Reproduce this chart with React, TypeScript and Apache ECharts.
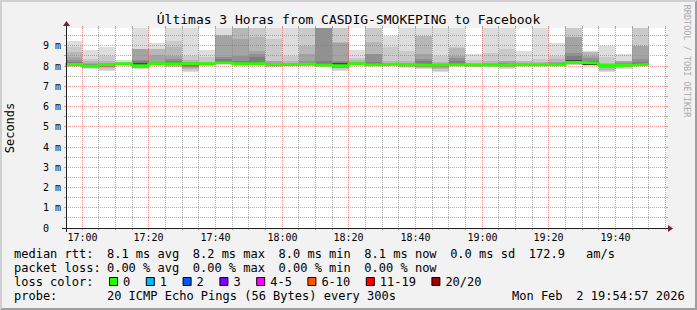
import React, { useEffect, useRef } from "react";
import * as echarts from "echarts";

// ---- data ----
const binTimes = [
  "16:55", "17:00", "17:05", "17:10", "17:15", "17:20", "17:25", "17:30", "17:35", "17:40",
  "17:45", "17:50", "17:55", "18:00", "18:05", "18:10", "18:15", "18:20", "18:25", "18:30",
  "18:35", "18:40", "18:45", "18:50", "18:55", "19:00", "19:05", "19:10", "19:15", "19:20",
  "19:25", "19:30", "19:35", "19:40", "19:45",
];
const binMinutes = 5; // every 300s

const medians = [
  8.08, 7.99, 8.08, 8.12, 8.02, 8.12, 8.12, 8.11, 8.12, 8.16,
  8.11, 8.13, 8.08, 8.08, 8.1, 8.05, 8.01, 8.12, 8.07, 8.1,
  8.06, 8.05, 8.06, 8.07, 8.05, 8.05, 8.08, 8.07, 8.07, 8.07,
  8.17, 8.15, 8.03, 8.05, 8.08,
];

// sorted pings, highest first: ping20 .. ping11 (ms)
const pingsHigh = [
  [9.25, 8.92, 8.67, 8.43, 8.3, 8.18, 8.15, 8.13, 8.12, 8.1],
  [8.79, 8.35, 8.25, 8.15, 8.1, 8.07, 8.05, 8.03, 8.02, 8.01],
  [8.95, 8.5, 8.26, 8.15, 8.13, 8.12, 8.11, 8.1, 8.09, 8.09],
  [8.3, 8.2, 8.16, 8.15, 8.14, 8.14, 8.13, 8.13, 8.13, 8.12],
  [10.5, 8.84, 8.83, 8.82, 8.31, 8.25, 8.15, 8.14, 8.13, 8.1],
  [9.14, 8.84, 8.82, 8.54, 8.18, 8.16, 8.15, 8.14, 8.13, 8.13],
  [10.5, 9.25, 8.92, 8.48, 8.35, 8.25, 8.18, 8.16, 8.15, 8.14],
  [10.5, 8.51, 8.3, 8.2, 8.16, 8.14, 8.13, 8.12, 8.12, 8.11],
  [8.79, 8.43, 8.21, 8.17, 8.15, 8.14, 8.14, 8.13, 8.13, 8.12],
  [10.5, 9.53, 9.52, 9.5, 8.43, 8.35, 8.26, 8.24, 8.22, 8.21],
  [10.5, 10.3, 10.1, 9.33, 8.48, 8.26, 8.2, 8.17, 8.15, 8.13],
  [10.5, 10.2, 9.42, 8.76, 8.6, 8.43, 8.21, 8.18, 8.16, 8.15],
  [10.5, 9.33, 8.26, 8.25, 8.13, 8.12, 8.11, 8.1, 8.1, 8.09],
  [10.5, 8.51, 8.26, 8.13, 8.12, 8.11, 8.1, 8.1, 8.09, 8.09],
  [10.5, 10.5, 9.0, 8.6, 8.25, 8.16, 8.14, 8.12, 8.11, 8.11],
  [10.5, 10.5, 10.5, 10.5, 10.5, 8.26, 8.13, 8.11, 8.09, 8.07],
  [10.5, 10.5, 9.17, 9.15, 8.26, 8.2, 8.15, 8.14, 8.13, 8.12],
  [8.79, 8.4, 8.3, 8.18, 8.16, 8.15, 8.14, 8.13, 8.13, 8.13],
  [10.5, 10.5, 9.17, 8.59, 8.58, 8.18, 8.16, 8.14, 8.12, 8.1],
  [9.5, 8.92, 8.26, 8.17, 8.14, 8.13, 8.12, 8.12, 8.11, 8.11],
  [10.5, 8.76, 8.26, 8.15, 8.12, 8.1, 8.09, 8.08, 8.08, 8.07],
  [10.5, 9.5, 9.49, 8.59, 8.35, 8.25, 8.15, 8.12, 8.1, 8.08],
  [10.5, 8.51, 8.18, 8.12, 8.1, 8.09, 8.08, 8.08, 8.07, 8.07],
  [10.5, 8.92, 8.91, 8.48, 8.4, 8.26, 8.15, 8.12, 8.1, 8.09],
  [8.6, 8.3, 8.15, 8.1, 8.08, 8.07, 8.07, 8.06, 8.06, 8.06],
  [10.5, 8.63, 8.26, 8.15, 8.1, 8.08, 8.07, 8.07, 8.06, 8.06],
  [10.5, 8.84, 8.26, 8.25, 8.15, 8.13, 8.11, 8.1, 8.1, 8.09],
  [8.72, 8.26, 8.25, 8.13, 8.11, 8.1, 8.09, 8.09, 8.08, 8.08],
  [10.5, 8.35, 8.18, 8.12, 8.1, 8.09, 8.09, 8.08, 8.08, 8.08],
  [9.14, 8.51, 8.35, 8.18, 8.16, 8.14, 8.12, 8.11, 8.1, 8.09],
  [10.5, 10.5, 9.45, 9.44, 8.65, 8.5, 8.3, 8.29, 8.28, 8.27],
  [8.72, 8.71, 8.7, 8.5, 8.4, 8.26, 8.24, 8.23, 8.22, 8.21],
  [9.0, 8.43, 8.13, 8.1, 8.08, 8.07, 8.06, 8.06, 8.05, 8.05],
  [8.59, 8.26, 8.25, 8.24, 8.13, 8.11, 8.1, 8.09, 8.08, 8.07],
  [10.5, 10.5, 9.0, 8.99, 8.35, 8.18, 8.15, 8.13, 8.11, 8.1],
];

// sorted pings, lowest first: ping1 .. ping10 (ms)
const pingsLow = [
  [7.97, 8.0, 8.02, 8.03, 8.04, 8.05, 8.05, 8.06, 8.06, 8.07],
  [7.85, 7.88, 7.92, 7.94, 7.95, 7.96, 7.97, 7.97, 7.98, 7.98],
  [7.77, 7.82, 7.88, 7.93, 7.97, 8.0, 8.02, 8.04, 8.05, 8.07],
  [8.05, 8.07, 8.08, 8.09, 8.1, 8.1, 8.11, 8.11, 8.11, 8.12],
  [7.86, 7.88, 7.9, 7.92, 7.93, 7.94, 7.94, 7.95, 7.95, 7.95],
  [8.05, 8.07, 8.08, 8.09, 8.1, 8.1, 8.11, 8.11, 8.11, 8.11],
  [7.93, 7.97, 8.0, 8.03, 8.05, 8.07, 8.08, 8.09, 8.1, 8.1],
  [7.72, 7.78, 7.85, 7.9, 7.95, 7.99, 8.02, 8.05, 8.08, 8.1],
  [8.02, 8.05, 8.07, 8.08, 8.09, 8.1, 8.1, 8.11, 8.11, 8.11],
  [8.08, 8.1, 8.11, 8.12, 8.12, 8.13, 8.13, 8.14, 8.14, 8.14],
  [8.0, 8.03, 8.05, 8.06, 8.07, 8.08, 8.08, 8.09, 8.09, 8.09],
  [8.05, 8.07, 8.08, 8.09, 8.1, 8.1, 8.11, 8.11, 8.11, 8.11],
  [7.93, 7.97, 8.0, 8.02, 8.04, 8.05, 8.06, 8.06, 8.07, 8.07],
  [8.0, 8.03, 8.04, 8.05, 8.06, 8.06, 8.07, 8.07, 8.07, 8.07],
  [8.02, 8.04, 8.05, 8.06, 8.07, 8.08, 8.08, 8.09, 8.09, 8.09],
  [7.95, 7.98, 8.0, 8.01, 8.02, 8.02, 8.03, 8.03, 8.03, 8.03],
  [7.77, 7.82, 7.88, 7.91, 7.92, 7.93, 7.93, 7.94, 7.94, 7.95],
  [8.05, 8.07, 8.08, 8.09, 8.1, 8.1, 8.11, 8.11, 8.11, 8.11],
  [7.98, 8.0, 8.01, 8.02, 8.03, 8.03, 8.04, 8.04, 8.04, 8.04],
  [8.02, 8.04, 8.05, 8.06, 8.07, 8.08, 8.08, 8.09, 8.09, 8.09],
  [7.91, 7.95, 7.98, 8.0, 8.02, 8.03, 8.04, 8.04, 8.05, 8.05],
  [7.85, 7.88, 7.92, 7.95, 7.98, 8.0, 8.01, 8.01, 8.02, 8.02],
  [7.72, 7.78, 7.85, 7.92, 7.97, 8.0, 8.02, 8.03, 8.04, 8.05],
  [7.98, 8.0, 8.02, 8.03, 8.04, 8.04, 8.05, 8.05, 8.05, 8.05],
  [7.93, 7.96, 7.98, 8.0, 8.01, 8.02, 8.03, 8.03, 8.04, 8.04],
  [7.95, 7.98, 8.0, 8.01, 8.02, 8.03, 8.03, 8.04, 8.04, 8.04],
  [7.85, 7.9, 7.95, 7.98, 8.01, 8.03, 8.05, 8.06, 8.06, 8.07],
  [7.98, 8.01, 8.03, 8.04, 8.05, 8.05, 8.06, 8.06, 8.06, 8.06],
  [8.0, 8.02, 8.03, 8.04, 8.05, 8.05, 8.06, 8.06, 8.06, 8.06],
  [7.98, 8.0, 8.02, 8.03, 8.04, 8.04, 8.05, 8.05, 8.05, 8.05],
  [8.05, 8.07, 8.08, 8.09, 8.1, 8.1, 8.11, 8.11, 8.12, 8.12],
  [8.02, 8.03, 8.04, 8.05, 8.05, 8.06, 8.06, 8.06, 8.07, 8.07],
  [7.69, 7.75, 7.82, 7.88, 7.93, 7.96, 7.98, 7.99, 8.0, 8.01],
  [7.85, 7.9, 7.95, 7.98, 8.0, 8.01, 8.02, 8.02, 8.03, 8.03],
  [7.98, 8.01, 8.03, 8.04, 8.05, 8.05, 8.06, 8.06, 8.06, 8.06],
];

const xTickLabels = ["17:00", "17:20", "17:40", "18:00", "18:20", "18:40", "19:00", "19:20", "19:40"];
const yTickLabels = ["0", "1 m", "2 m", "3 m", "4 m", "5 m", "6 m", "7 m", "8 m", "9 m"];

const titleText = "Últimas 3 Horas from CASDIG-SMOKEPING to Facebook";
const rttStats = ["8.1 ms avg", "8.2 ms max", "8.0 ms min", "8.1 ms now", "0.0 ms sd", "172.9", "am/s"];
const rttCols = [13, 25, 37, 49, 61, 72, 80];
const lossStats = ["0.00 % avg", "0.00 % max", "0.00 % min", "0.00 % now"];
const lossCols = [13, 25, 37, 49];
const lossLabels = ["0", "1", "2", "3", "4-5", "6-10", "11-19", "20/20"];
const lossColors = ["#26ff00", "#00b8ff", "#0059ff", "#7e00ff", "#ff00fe", "#ff5500", "#ff0000", "#a10000"];
const probeText = "20 ICMP Echo Pings (56 Bytes) every 300s";
const dateParts = ["Mon Feb", "2 19:54:57 2026"];

// ---- layout / style ----
const W = 697;
const H = 310;
const GL = 66;
const GT = 28;
const GW = 600;
const GH = 200;
const X_MIN = -4.8;
const X_MAX = 175.2;
const Y_MAX = 9.88;
const MONO = '"DejaVu Sans Mono", monospace';
const GRID_C = "rgba(143,143,143,0.75)";
const MGRID_C = "rgba(222,79,79,0.6)";
const AXIS_C = "#1f1f1f";
const ARROW_C = "#801f1f";

const toMin = (s: string) => {
  const [h, m] = s.split(":").map(Number);
  return (h - 17) * 60 + m;
};

function buildOption() {
  const smokeData = binTimes.map((t, i) => [
    toMin(t),
    toMin(t) + binMinutes,
    ...pingsLow[i],
    ...pingsHigh[i].slice().reverse(),
  ]);

  const medianData: number[][] = [[toMin(binTimes[0]), medians[0]]];
  binTimes.forEach((t, i) => medianData.push([toMin(t) + binMinutes, medians[i]]));

  const gridData: number[][] = [];
  const majors = xTickLabels.map(toMin);
  for (let t = 0; t <= X_MAX; t += 5) {
    const li = majors.indexOf(t);
    gridData.push([0, t, li >= 0 ? 1 : 0, li]);
  }
  for (let v = 0.5; v < Y_MAX; v += 0.5) {
    gridData.push([1, v, Number.isInteger(v) ? 1 : 0, -1]);
  }

  const smokeSeries = {
    type: "custom",
    z: 1,
    silent: true,
    clip: true,
    data: smokeData,
    renderItem: (params: any, api: any) => {
      const cs = params.coordSys;
      const x0 = Math.round(api.coord([api.value(0), 0])[0]);
      const x1 = Math.round(api.coord([api.value(1), 0])[0]);
      const xa = Math.max(x0, cs.x);
      const xb = Math.min(x1, cs.x + cs.width);
      const children: any[] = [];
      for (let k = 1; k <= 10; k++) {
        const lo = api.value(1 + k);
        const hi = api.value(22 - k);
        let yHi = Math.round(api.coord([0, hi])[1]);
        let yLo = Math.round(api.coord([0, lo])[1]);
        yHi = Math.max(yHi, cs.y);
        yLo = Math.min(yLo, cs.y + cs.height);
        if (yLo <= yHi || xb <= xa) continue;
        const g = Math.floor((190 / 10) * (10 - k)) + 50;
        children.push({
          type: "rect",
          shape: { x: xa, y: yHi, width: xb - xa, height: yLo - yHi },
          style: { fill: `rgb(${g},${g},${g})` },
        });
      }
      return { type: "group", children };
    },
  };

  const gridSeries = {
    type: "custom",
    z: 2,
    silent: true,
    data: gridData,
    renderItem: (params: any, api: any) => {
      const cs = params.coordSys;
      const kind = api.value(0);
      const v = api.value(1);
      const major = api.value(2) === 1;
      const li = api.value(3);
      const color = major ? MGRID_C : GRID_C;
      const left = cs.x;
      const right = cs.x + cs.width;
      const top = cs.y;
      const bottom = cs.y + cs.height;
      const children: any[] = [];
      if (kind === 0) {
        const px = Math.floor(api.coord([v, 0])[0]) + 0.5;
        children.push(
          { type: "line", shape: { x1: px, y1: top, x2: px, y2: bottom }, style: { stroke: color, lineWidth: 1, lineDash: [1, 1] } },
          { type: "line", shape: { x1: px, y1: top - 2, x2: px, y2: top }, style: { stroke: color, lineWidth: 1 } },
          { type: "line", shape: { x1: px, y1: bottom, x2: px, y2: bottom + 2 }, style: { stroke: color, lineWidth: 1 } }
        );
        if (li >= 0) {
          children.push({
            type: "text",
            x: px,
            y: bottom + 9.5,
            style: {
              text: xTickLabels[li],
              fill: "#000",
              font: `10px ${MONO}`,
              align: "center",
              verticalAlign: "middle",
              textAlign: "center",
              textVerticalAlign: "middle",
            },
          });
        }
      } else {
        const py = Math.floor(api.coord([0, v])[1]) + 0.5;
        children.push(
          { type: "line", shape: { x1: left, y1: py, x2: right, y2: py }, style: { stroke: color, lineWidth: 1, lineDash: [1, 1] } },
          { type: "line", shape: { x1: left - 2, y1: py, x2: left, y2: py }, style: { stroke: color, lineWidth: 1 } },
          { type: "line", shape: { x1: right, y1: py, x2: right + 2, y2: py }, style: { stroke: color, lineWidth: 1 } }
        );
      }
      return { type: "group", children };
    },
  };

  const medianSeries = {
    type: "line",
    z: 3,
    step: "start",
    symbol: "none",
    silent: true,
    clip: true,
    data: medianData,
    lineStyle: { color: lossColors[0], width: 3 },
  };

  // legend / decorations
  const LX = 14;
  const CW = 7.15;
  const legendFont = `12px ${MONO}`;
  const txt = (text: string, x: number, y: number, extra: any = {}) => ({
    type: "text",
    x,
    y,
    z: 100,
    style: {
      text,
      fill: "#000",
      font: legendFont,
      align: "left",
      verticalAlign: "middle",
      textAlign: "left",
      textVerticalAlign: "middle",
      ...extra,
    },
  });

  const graphics: any[] = [
    { type: "polygon", z: 50, shape: { points: [[0, H], [2, H - 2], [2, 2], [W - 2, 2], [W, 0], [0, 0]] }, style: { fill: "#cfcfcf" } },
    { type: "polygon", z: 50, shape: { points: [[2, H - 2], [W - 2, H - 2], [W - 2, 2], [W, 0], [W, H], [0, H]] }, style: { fill: "#9e9e9e" } },
    { type: "line", z: 100, shape: { x1: GL - 4, y1: GT + GH + 0.5, x2: GL + GW + 4, y2: GT + GH + 0.5 }, style: { stroke: AXIS_C, lineWidth: 1 } },
    { type: "line", z: 100, shape: { x1: GL + 0.5, y1: GT + GH + 4, x2: GL + 0.5, y2: GT - 4 }, style: { stroke: AXIS_C, lineWidth: 1 } },
    { type: "polygon", z: 101, shape: { points: [[GL + GW + 2, GT + GH - 3], [GL + GW + 2, GT + GH + 4], [GL + GW + 7, GT + GH + 0.5]] }, style: { fill: ARROW_C } },
    { type: "polygon", z: 101, shape: { points: [[GL - 3, GT - 2], [GL + 4, GT - 2], [GL + 0.5, GT - 7]] }, style: { fill: ARROW_C } },
    txt(titleText, 348.5, 19, { font: `13px ${MONO}`, align: "center", textAlign: "center" }),
    { ...txt("Seconds", 0, 0, { align: "center", textAlign: "center" }), x: 10, y: 128, rotation: Math.PI / 2 },
    { ...txt("RRDTOOL / TOBI OETIKER", 0, 0, { font: `8.5px ${MONO}`, fill: "#aaaaaa", align: "center", textAlign: "center" }), x: 687, y: 61, rotation: -Math.PI / 2 },
    txt("median rtt:", LX, 254),
    txt("packet loss:", LX, 268),
    txt("loss color:", LX, 282),
    txt("probe:", LX, 296),
    txt(probeText, LX + 13 * CW, 296),
    txt(dateParts[0], 512, 296),
    txt(dateParts[1], 512 + 9 * CW, 296),
  ];
  rttStats.forEach((s, i) => graphics.push(txt(s, LX + rttCols[i] * CW, 254)));
  lossStats.forEach((s, i) => graphics.push(txt(s, LX + lossCols[i] * CW, 268)));
  let pos = 109;
  lossLabels.forEach((l, i) => {
    graphics.push({
      type: "rect",
      z: 100,
      shape: { x: pos + 0.5, y: 277.5, width: 8, height: 8 },
      style: { fill: lossColors[i], stroke: "#000", lineWidth: 1 },
    });
    graphics.push(txt(l, pos + 14, 282));
    pos += 29.6 + l.length * 7.2;
  });

  return {
    animation: false,
    backgroundColor: "#f2f2f2",
    grid: {
      left: GL,
      top: GT,
      width: GW,
      height: GH,
      show: true,
      backgroundColor: "#ffffff",
      borderWidth: 0,
      containLabel: false,
      outerBoundsMode: "none",
    },
    xAxis: { type: "value", min: X_MIN, max: X_MAX, show: false },
    yAxis: {
      type: "value",
      min: 0,
      max: Y_MAX,
      interval: 1,
      axisLine: { show: false },
      axisTick: { show: false },
      splitLine: { show: false },
      axisLabel: {
        showMaxLabel: false,
        margin: 23,
        align: "left",
        fontFamily: "DejaVu Sans Mono",
        fontSize: 10,
        color: "#000",
        formatter: (v: number) =>
          Number.isInteger(v) && v >= 0 && v < yTickLabels.length ? yTickLabels[v] : "",
      },
    },
    series: [smokeSeries, gridSeries, medianSeries],
    graphic: { elements: graphics },
  };
}

export default function App() {
  const ref = useRef<HTMLDivElement>(null);
  useEffect(() => {
    if (!ref.current) return;
    const chart = echarts.init(ref.current, undefined, { renderer: "svg" });
    chart.setOption(buildOption() as any);
    return () => chart.dispose();
  }, []);
  return (
    <div
      ref={ref}
      style={{ position: "fixed", left: 0, top: 0, width: W, height: H }}
    />
  );
}
